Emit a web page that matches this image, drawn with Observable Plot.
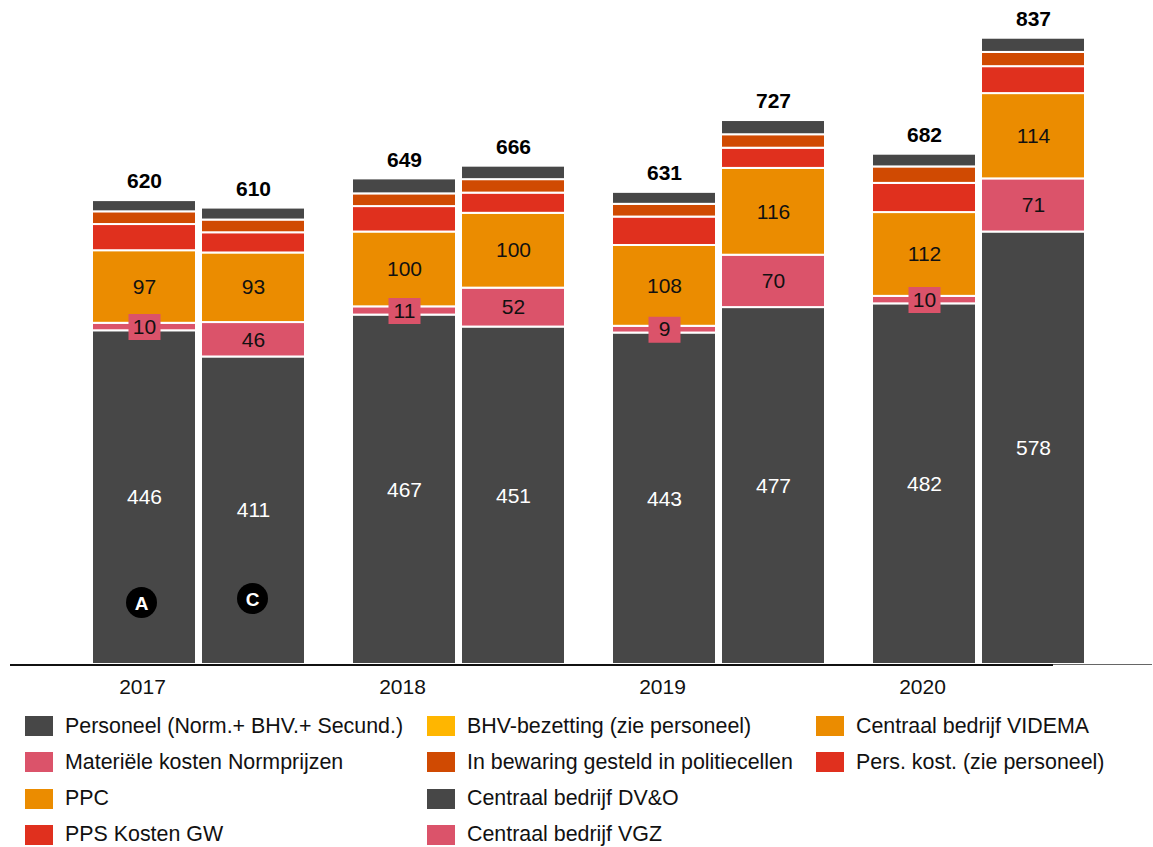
<!DOCTYPE html>
<html>
<head>
<meta charset="utf-8">
<script src="https://cdn.jsdelivr.net/npm/d3@7"></script>
<script src="https://cdn.jsdelivr.net/npm/@observablehq/plot@0.6"></script>
<style>
  html, body { margin: 0; padding: 0; background: #fff; overflow: hidden; }
  body { font-family: "Liberation Sans", Arial, sans-serif; width: 1153px; height: 847px; }
  #chart svg { display: block; }
  #legend { position: relative; height: 150px; }
  .item { position: absolute; display: flex; align-items: center; height: 36px; font-size: 21.4px; color: #111; white-space: nowrap; }
  .sw { width: 28px; height: 20px; margin-right: 12px; flex: none; }
</style>
</head>
<body>
<div id="chart"></div>
<div id="legend"></div>
<script>
// ---- data ----
const years    = ["2017", "2017", "2018", "2018", "2019", "2019", "2020", "2020"];
const variants = ["A", "C", "A", "C", "A", "C", "A", "C"];
const personeel = [446, 411, 467, 451, 443, 477, 482, 578];
const materieel = [10, 46, 11, 52, 9, 70, 10, 71];
const ppc       = [97, 93, 100, 100, 108, 116, 112, 114];
const pps       = [35, 27, 34, 27, 38, 27, 39, 36];
const bewaring  = [17, 17, 17, 18, 17, 18, 22, 19];
const overig    = [15, 16, 20, 18, 16, 19, 17, 19];
const totals    = [620, 610, 649, 666, 631, 727, 682, 837];
const yearLabels = ["2017", "2018", "2019", "2020"];
const markerA = [{year: "2017", variant: "A"}];
const markerC = [{year: "2017", variant: "C"}];

const layerKeys   = ["personeel", "materieel", "ppc", "pps", "bewaring", "overig"];
const layerValues = [personeel, materieel, ppc, pps, bewaring, overig];
const layerColors = ["#474747", "#DB536A", "#EB8C00", "#E0301E", "#D04A02", "#474747"];

const legendLabels = [
  "Personeel (Norm.+ BHV.+ Secund.)", "Materiële kosten Normprijzen", "PPC", "PPS Kosten GW",
  "BHV-bezetting (zie personeel)", "In bewaring gesteld in politiecellen", "Centraal bedrijf DV&O", "Centraal bedrijf VGZ",
  "Centraal bedrijf VIDEMA", "Pers. kost. (zie personeel)"
];
const legendColors = [
  "#474747", "#DB536A", "#EB8C00", "#E0301E",
  "#FFB600", "#D04A02", "#474747", "#DB536A",
  "#EB8C00", "#E0301E"
];

// ---- tables ----
const data = [];
layerKeys.forEach((key, li) => {
  years.forEach((yr, i) => {
    data.push({year: yr, variant: variants[i], layer: key, value: layerValues[li][i]});
  });
});
const totalData = years.map((yr, i) => ({year: yr, variant: variants[i], total: totals[i]}));

const boxSymbol = { draw(context) { context.rect(-16, -13, 32, 26); } };
const font = "Liberation Sans, Arial, sans-serif";

const stackOpts = {fx: "year", x: "variant", y: "value", z: "layer"};

const markerMarks = (m, dx, dy) => [
  Plot.dot(m, {fx: "year", x: "variant", frameAnchor: "bottom", dx, dy, r: 15.5, fill: "#000", stroke: "none"}),
  Plot.text(m, {fx: "year", x: "variant", frameAnchor: "bottom", lineAnchor: "middle", dx, dy: dy + 1, text: "variant",
    fill: "white", fontWeight: "bold", fontSize: 19, fontFamily: font})
];

const chart = Plot.plot({
  width: 1153,
  height: 700,
  marginLeft: 10,
  marginRight: 98,
  marginTop: 28,
  marginBottom: 36,
  style: {fontFamily: font, background: "white"},
  fx: {domain: yearLabels, range: [90.5, 1086.5], paddingInner: 0.176, paddingOuter: 0, axis: null, label: null},
  x: {domain: ["A", "C"], paddingInner: 0.05, paddingOuter: 0, axis: null, label: null},
  y: {domain: [0, 850], axis: null},
  color: {domain: layerKeys, range: layerColors},
  r: {range: [0, 16]},
  marks: [
    Plot.barY(data, {...stackOpts, fill: "layer", stroke: "white", strokeWidth: 2}),
    // pink boxes for small values
    Plot.dot(data, Plot.stackY({...stackOpts,
      r: d => (d.layer === "materieel" && d.value < 20) ? 1 : 0,
      symbol: boxSymbol, fill: "#DB536A", stroke: "none"})),
    // base labels (white)
    Plot.text(data, Plot.stackY({...stackOpts,
      text: d => d.layer === "personeel" ? String(d.value) : null,
      fill: "white", fontSize: 21, fontFamily: font})),
    // pink and orange labels
    Plot.text(data, Plot.stackY({...stackOpts,
      text: d => (d.layer === "materieel" || d.layer === "ppc") ? String(d.value) : null,
      fill: "#111", fontSize: 21, fontFamily: font})),
    // totals
    Plot.text(totalData, {fx: "year", x: "variant", y: "total", text: d => String(d.total),
      dy: -19, fontWeight: "bold", fontSize: 21, fill: "#000", fontFamily: font}),
    // A / C markers
    ...markerMarks(markerA, -3, -62),
    ...markerMarks(markerC, -1, -66),
    // year labels under the first bar of each pair
    Plot.text(yearLabels, {fx: d => d, x: () => "A", frameAnchor: "bottom", lineAnchor: "middle", dx: -2, dy: 23,
      text: d => d, fill: "#111", fontSize: 21, fontFamily: font}),
    // baseline: thin grey tail to the right edge, then the dark axis line
    Plot.ruleY([0], {fx: () => "2020", insetLeft: 182, insetRight: -67, stroke: "#666", strokeWidth: 1.5, shapeRendering: "crispEdges"}),
    Plot.ruleY([0], {insetLeft: -81, insetRight: 32, stroke: "#111", strokeWidth: 2, shapeRendering: "crispEdges"})
  ]
});
document.getElementById("chart").appendChild(chart);

// ---- legend ----
const legend = document.getElementById("legend");
const colX = [25, 427, 816];
legendLabels.forEach((label, i) => {
  const col = Math.floor(i / 4), row = i % 4;
  const item = document.createElement("div");
  item.className = "item";
  item.style.left = colX[col] + "px";
  item.style.top = (8 + row * 36.3) + "px";
  const sw = document.createElement("span");
  sw.className = "sw";
  sw.style.background = legendColors[i];
  const tx = document.createElement("span");
  tx.textContent = label;
  item.appendChild(sw);
  item.appendChild(tx);
  legend.appendChild(item);
});
</script>
</body>
</html>
